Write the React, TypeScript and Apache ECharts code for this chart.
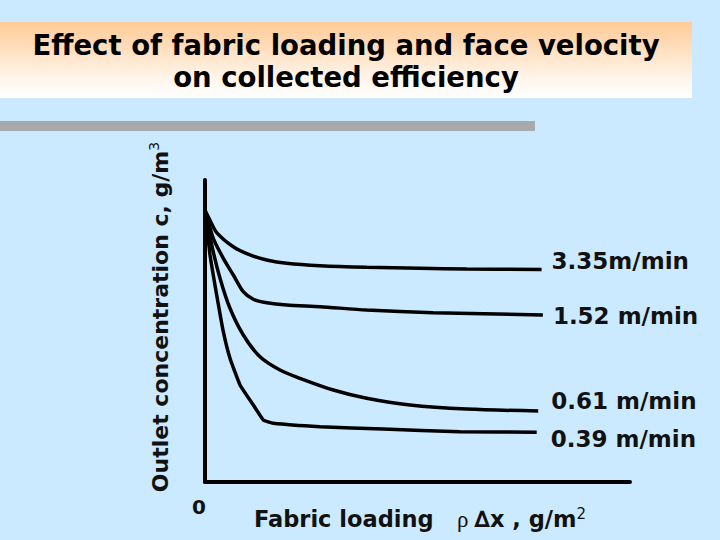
import React, { useEffect, useRef } from "react";
import * as echarts from "echarts";

const titleLines = ["Effect of fabric loading and face velocity", "on collected efficiency"];
const seriesNames = ["3.35m/min", "1.52 m/min", "0.61 m/min", "0.39 m/min"];

const x335 = [0, 1.2, 2.75, 6.66, 10.59, 14.52, 19.22, 27.06, 38.05, 50.59, 61.58, 79.2];
const y335 = [90.0, 86.6, 82.6, 77.9, 75.17, 73.51, 72.42, 71.62, 71.09, 70.76, 70.5, 70.4];

const x152 = [0, 1.95, 4.31, 6.66, 9.01, 11.36, 14.52, 19.22, 27.06, 38.05, 53.65, 79.5];
const y152 = [90.0, 80.7, 74.07, 68.54, 63.01, 60.5, 59.37, 58.61, 58.05, 56.95, 56.06, 55.3];

const x061 = [0, 1.58, 3.53, 5.88, 9.01, 12.94, 17.65, 22.35, 30.19, 38.05, 48.24, 61.58, 78.4];
const y061 = [90.0, 78.48, 67.45, 57.52, 48.68, 41.49, 37.09, 34.34, 30.46, 27.72, 25.5, 24.17, 23.5];

const x039 = [0, 1.18, 2.75, 4.31, 5.88, 8.24, 11.36, 13.72, 16.07, 27.06, 41.88, 60, 78.05];
const y039 = [90.0, 75.17, 61.92, 49.77, 40.96, 32.12, 25.5, 20.53, 19.44, 18.31, 17.55, 16.66, 16.46];

const xTickLabels = ["0"];

const labelOffsets = [-8, 1.5, -10.5, 6.5];
const labelDistances = [10, 10, 13, 14];

const FONT = "'DejaVu Sans', Verdana, sans-serif";

function pairs(xs: number[], ys: number[]) {
  return xs.map((x, i) => [x, ys[i]]);
}

export default function App() {
  const ref = useRef<HTMLDivElement>(null);
  useEffect(() => {
    if (!ref.current) return;
    const chart = echarts.init(ref.current, null, { renderer: "svg" });
    const dataSets = [
      pairs(x335, y335),
      pairs(x152, y152),
      pairs(x061, y061),
      pairs(x039, y039),
    ];
    const smooths = [0.3, 0.25, 0.3, 0.12];
    chart.setOption({
      animation: false,
      backgroundColor: "#CCEAFF",
      grid: { left: 205, right: 90, top: 180, bottom: 58 },
      xAxis: {
        type: "value",
        min: 0,
        max: 100,
        interval: 100,
        axisLine: { show: true, lineStyle: { color: "#000", width: 4 } },
        axisTick: { show: false },
        splitLine: { show: false },
        axisLabel: {
          margin: 15,
          showMinLabel: true,
          formatter: (v: number) => (v === 0 ? xTickLabels[0] : ""),
          fontSize: 20,
          fontWeight: "bold",
          fontFamily: FONT,
          color: "#111",
          padding: [0, 12, 0, 0],
        },
      },
      yAxis: {
        type: "value",
        min: 0,
        max: 100,
        axisLine: { show: true, lineStyle: { color: "#000", width: 4 } },
        axisTick: { show: false },
        splitLine: { show: false },
        axisLabel: { show: false },
      },
      graphic: [
        {
          type: "rect",
          shape: { x: 0, y: 22, width: 692, height: 76 },
          style: {
            fill: new echarts.graphic.LinearGradient(0, 0, 0, 1, [
              { offset: 0, color: "#FFCA96" },
              { offset: 0.75, color: "#FFF6EC" },
              { offset: 1, color: "#FFFFFF" },
            ]),
          },
          z: 0,
        },
        {
          type: "rect",
          shape: { x: 0, y: 121, width: 535, height: 10 },
          style: { fill: "#A7A9AC" },
        },
        {
          type: "text",
          x: 346,
          y: 61,
          style: {
            text: titleLines.join("\n"),
            align: "center",
            verticalAlign: "middle",
            fontSize: 27.5,
            fontWeight: "bold",
            fontFamily: FONT,
            lineHeight: 32,
            fill: "#000",
          },
          z: 10,
        },
        {
          type: "text",
          x: 160,
          y: 317,
          rotation: Math.PI / 2,
          style: {
            text: "{a|Outlet concentration c, g/m}{s|3}",
            align: "center",
            verticalAlign: "middle",
            rich: {
              a: { fontSize: 22, fontWeight: "bold", fontFamily: FONT, fill: "#111", lineHeight: 26 },
              s: { fontSize: 14, fontFamily: FONT, fill: "#111", verticalAlign: "top", lineHeight: 26 },
            },
          },
        },
        {
          type: "text",
          x: 420,
          y: 519,
          style: {
            text: "{a|Fabric loading   }{b|ρ }{c|∆x , g/m}{s|2}",
            align: "center",
            verticalAlign: "middle",
            rich: {
              a: { fontSize: 22.5, fontWeight: "bold", fontFamily: FONT, fill: "#111", lineHeight: 26 },
              b: { fontSize: 23, fontFamily: "'Liberation Serif', 'DejaVu Serif', serif", fill: "#111", lineHeight: 26 },
              c: { fontSize: 22.5, fontWeight: "bold", fontFamily: FONT, fill: "#111", lineHeight: 26 },
              s: { fontSize: 15, fontFamily: FONT, fill: "#111", verticalAlign: "top", lineHeight: 26 },
            },
          },
        },
      ],
      series: dataSets.map((d, i) => ({
        name: seriesNames[i],
        type: "line",
        data: d,
        symbol: "none",
        smooth: smooths[i],
        lineStyle: { color: "#000", width: 3.5 },
        endLabel: {
          show: true,
          formatter: "{a}",
          distance: labelDistances[i],
          offset: [0, labelOffsets[i]],
          fontSize: 23,
          fontWeight: "bold",
          fontFamily: FONT,
          color: "#111",
        },
      })),
    });
    return () => chart.dispose();
  }, []);
  return (
    <div
      ref={ref}
      style={{ position: "fixed", left: 0, top: 0, width: 720, height: 540 }}
    />
  );
}
